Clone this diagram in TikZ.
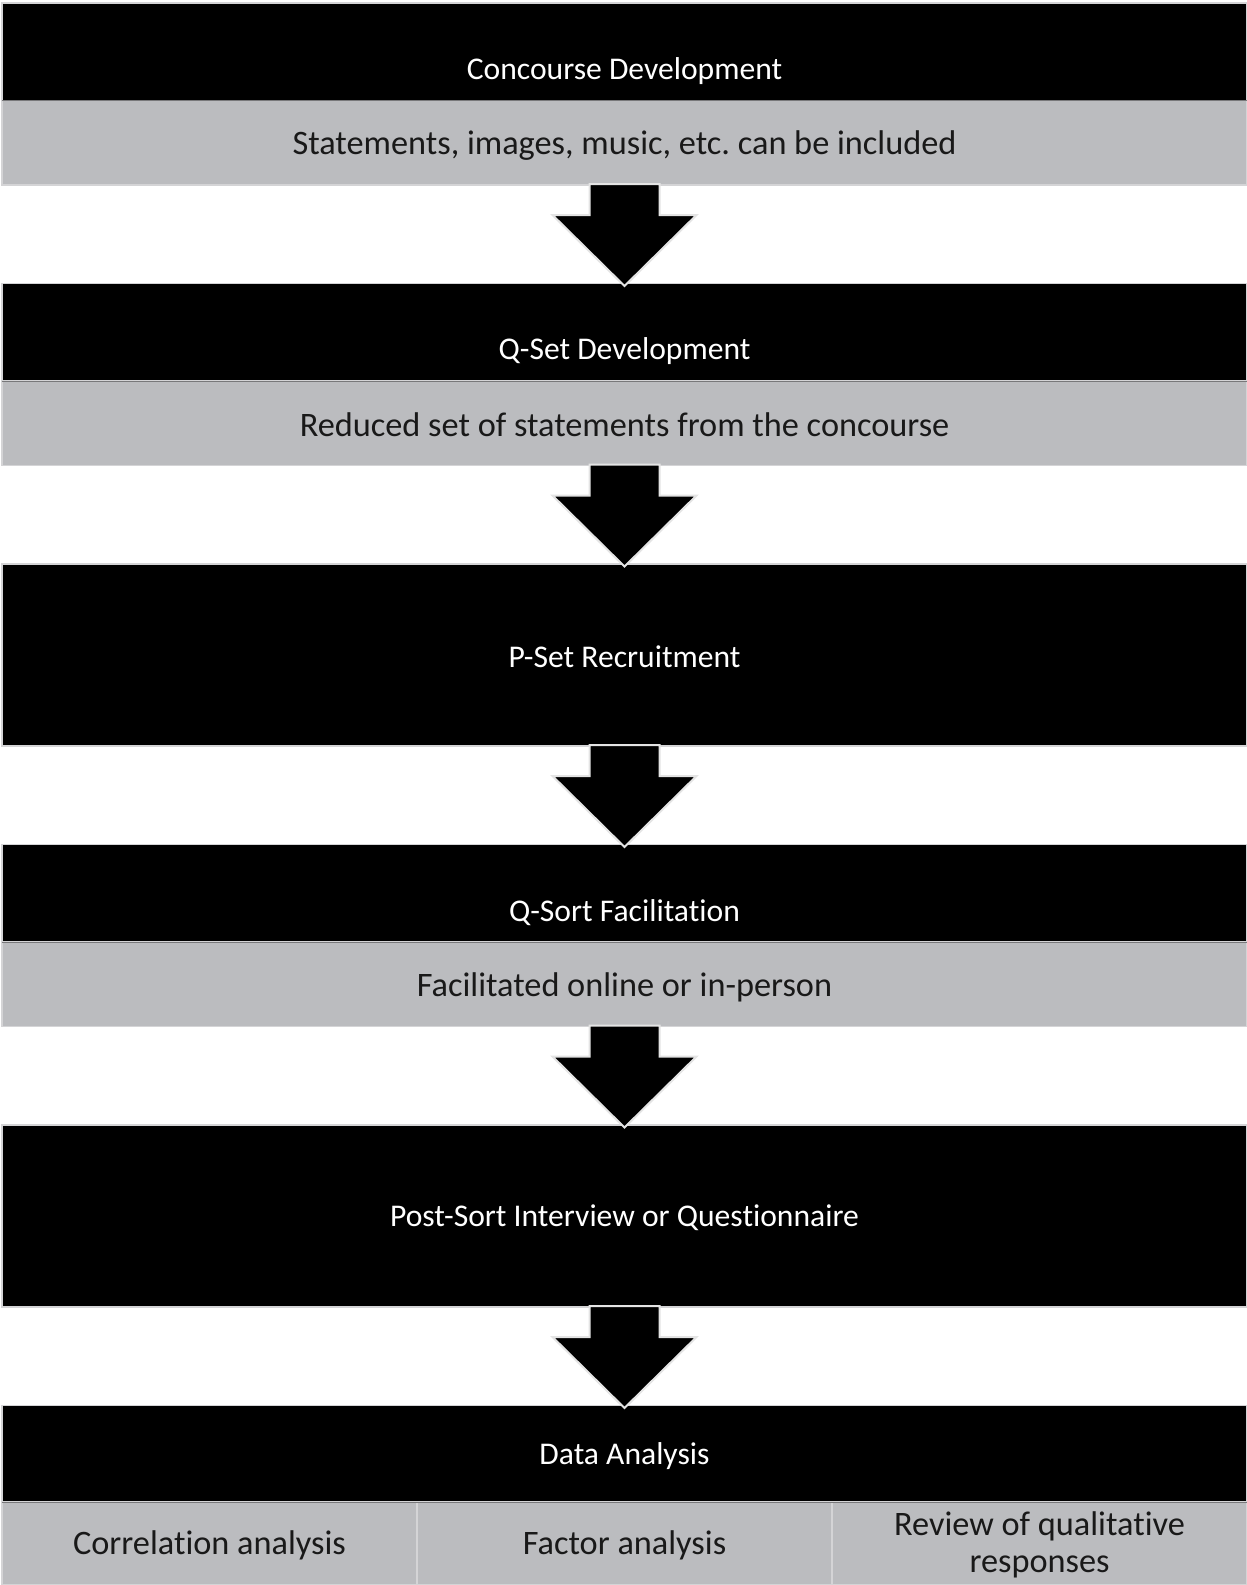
\documentclass[tikz,border=0pt]{standalone}
\usepackage{fontspec}
\setmainfont{Carlito}[Ligatures={NoCommon,NoContextual},RawFeature={-liga}]
\usetikzlibrary{calc}
\frenchspacing
\definecolor{boxgray}{RGB}{187,188,191}
\definecolor{edgegray}{RGB}{212,212,214}
\definecolor{arrowedge}{RGB}{228,228,228}
\definecolor{splitgray}{RGB}{120,120,122}
\begin{document}
\begin{tikzpicture}[x=1pt,y=-1pt,
  boxbase/.style={inner sep=0pt,outer sep=0pt,anchor=north west,line width=1.5pt,draw=edgegray},
  blackbox/.style={boxbase,fill=black,minimum width=1245pt,minimum height=97.5pt},
  tallbox/.style={boxbase,fill=black,minimum width=1245pt,minimum height=182pt},
  graybox/.style={boxbase,fill=boxgray,minimum width=1245pt,minimum height=84.5pt},
  colbox/.style={boxbase,fill=boxgray,minimum width=415pt,minimum height=83pt},
  titletext/.style={text=white,font=\fontsize{31.6}{36}\selectfont,inner sep=0pt},
  graytext/.style={text=black!90,font=\fontsize{34.3}{37.5}\selectfont,inner sep=0pt,align=center},
  blockarrow/.style={fill=black,draw=arrowedge,line width=2pt,line join=miter}
]
\fill[white] (0,0) rectangle (1247,1585);
\useasboundingbox (0,0) rectangle (1247,1585);

% boxes
\node[blackbox] (b1) at (2,3) {};
\node[graybox]  (g1) at (2,100.5) {};
\node[blackbox] (b2) at (2,283.5) {};
\node[graybox]  (g2) at (2,381) {};
\node[tallbox]  (b3) at (2,564) {};
\node[blackbox] (b4) at (2,844.5) {};
\node[graybox]  (g4) at (2,942) {};
\node[tallbox]  (b5) at (2,1125) {};
\node[blackbox] (b6) at (2,1405.5) {};
\node[colbox] (c1) at (2,1502) {};
\node[colbox] (c2) at (417,1502) {};
\node[colbox] (c3) at (832,1502) {};

% dark split lines between black and gray parts
\foreach \b in {g1,g2,g4}
  \draw[splitgray,line width=1pt] (\b.north west) -- (\b.north east);
\draw[splitgray,line width=1pt] (c1.north west) -- (c3.north east);

% texts
\node[titletext] (t1) at ($(b1.north)+(0,68.5)$) {Concourse Development};
\node[graytext]  (s1) at ($(g1.center)+(0,3)$) {Statements, images, music, etc. can be included};
\node[titletext] (t2) at ($(b2.north)+(0,67.5)$) {Q-Set Development};
\node[graytext]  (s2) at ($(g2.center)+(0,1.5)$) {Reduced set of statements from the concourse};
\node[titletext] (t3) at ($(b3.center)+(0,2)$) {P-Set Recruitment};
\node[titletext] (t4) at ($(b4.north)+(0,68.5)$) {Q-Sort Facilitation};
\node[graytext]  (s4) at ($(g4.center)+(0,3)$) {Facilitated online or in-person};
\node[titletext] (t5) at ($(b5.center)+(0,2)$) {Post-Sort Interview or Questionnaire};
\node[titletext] (t6) at ($(b6.center)+(0,2)$) {Data Analysis};
\node[graytext]  (s6a) at ($(c1.center)+(0,1.5)$) {Correlation analysis};
\node[graytext]  (s6b) at ($(c2.center)+(0,1.5)$) {Factor analysis};
\node[graytext]  (s6c) at ($(c3.center)+(0,1.5)$) {Review of qualitative\\responses};

% block arrows
\foreach \f/\t in {g1/b2,g2/b3,b3/b4,g4/b5,b5/b6}{
  \path[blockarrow] let \p1=(\f.south), \p2=(\t.north) in
    (\x1-35pt,\y1+1pt) -- (\x1+35pt,\y1+1pt) -- (\x1+35pt,\y1-30pt) -- (\x1+72pt,\y1-30pt)
    -- (\x1,\y2-2.5pt) -- (\x1-72pt,\y1-30pt) -- (\x1-35pt,\y1-30pt) -- cycle;
}
\end{tikzpicture}
\end{document}
